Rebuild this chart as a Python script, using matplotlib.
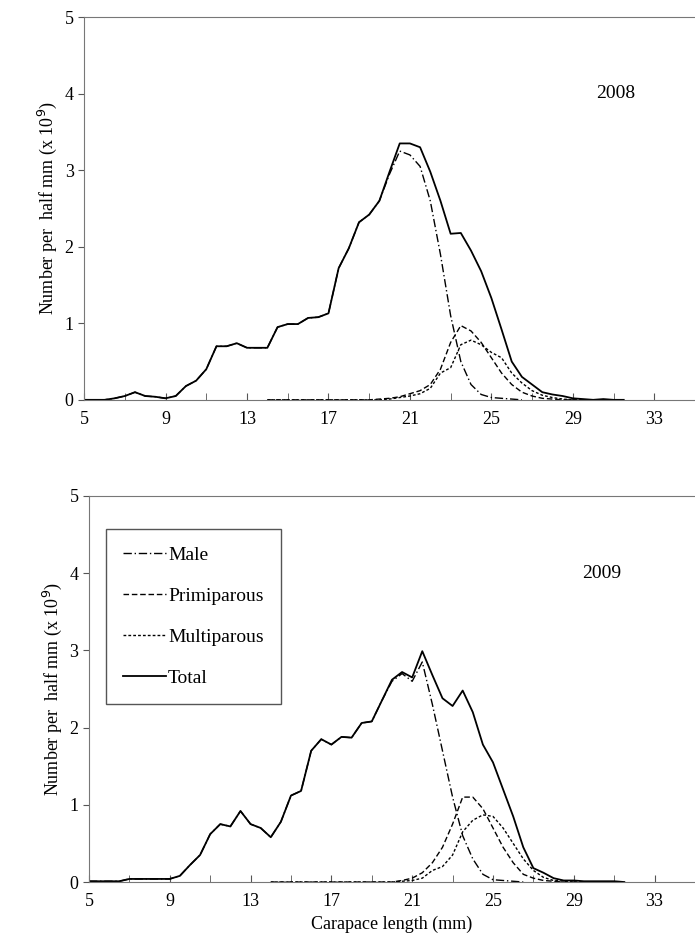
import numpy as np
import matplotlib
matplotlib.use("Agg")
import matplotlib.pyplot as plt

plt.rcParams['font.family'] = ['Liberation Serif', 'DejaVu Serif']

x = np.arange(5, 32, 0.5)
total08 = [0,0,0,0.02,0.05,0.1,0.05,0.04,0.02,0.05,0.18,0.25,0.4,0.7,0.7,0.74,0.68,0.68,0.68,0.95,
           0.99,0.99,1.07,1.08,1.13,1.72,1.98,2.32,2.42,2.6,2.98,3.35,3.35,3.3,2.98,2.6,2.17,2.18,1.95,1.68,
           1.33,0.92,0.5,0.3,0.2,0.1,0.07,0.05,0.02,0.01,0,0.01,0,0]
xm = np.arange(5, 27, 0.5)
male08 = [0,0,0,0.02,0.05,0.1,0.05,0.04,0.02,0.05,0.18,0.25,0.4,0.7,0.7,0.74,0.68,0.68,0.68,0.95,
          0.99,0.99,1.07,1.08,1.13,1.72,1.98,2.32,2.42,2.6,2.95,3.25,3.2,3.05,2.6,1.9,1.1,0.5,0.2,0.07,0.03,0.02,0.01,0]
xp = np.arange(14, 30, 0.5)
prim08 = [0,0,0,0,0,0,0,0,0,0,0,0.01,0.02,0.04,0.08,0.12,0.2,0.4,0.75,0.97,0.9,0.75,0.55,0.35,0.2,0.1,0.05,0.02,0.01,0,0,0]
multi08 = [0,0,0,0,0,0,0,0,0,0,0,0,0.01,0.03,0.05,0.08,0.15,0.35,0.42,0.72,0.78,0.72,0.62,0.55,0.35,0.22,0.12,0.06,0.03,0.01,0,0]

total09 = [0.01,0.01,0.01,0.01,0.04,0.04,0.04,0.04,0.04,0.08,0.22,0.35,0.62,0.75,0.72,0.92,0.75,0.7,0.58,0.78,
           1.12,1.18,1.7,1.85,1.78,1.88,1.87,2.06,2.08,2.35,2.62,2.72,2.65,2.99,2.68,2.38,2.28,2.48,2.2,1.78,
           1.55,1.2,0.85,0.45,0.18,0.12,0.05,0.02,0.02,0.01,0.01,0.01,0.01,0]
male09 = [0.01,0.01,0.01,0.01,0.04,0.04,0.04,0.04,0.04,0.08,0.22,0.35,0.62,0.75,0.72,0.92,0.75,0.7,0.58,0.78,
          1.12,1.18,1.7,1.85,1.78,1.88,1.87,2.06,2.08,2.35,2.6,2.7,2.6,2.85,2.3,1.7,1.1,0.6,0.3,0.1,0.03,0.02,0.01,0]
prim09 = [0,0,0,0,0,0,0,0,0,0,0,0,0,0.02,0.05,0.12,0.25,0.45,0.75,1.1,1.1,0.95,0.7,0.45,0.25,0.1,0.05,0.02,0.01,0,0,0]
multi09 = [0,0,0,0,0,0,0,0,0,0,0,0,0,0.01,0.02,0.05,0.15,0.2,0.35,0.65,0.8,0.87,0.85,0.7,0.5,0.3,0.15,0.06,0.02,0.01,0,0]

fig = plt.figure(figsize=(6.95, 9.52), dpi=100)
ax1 = fig.add_axes([0.121, 0.580, 0.879, 0.402])
ax2 = fig.add_axes([0.128, 0.0735, 0.872, 0.4055])

def style(ax):
    ax.set_xlim(5, 35)
    ax.set_ylim(0, 5)
    ax.set_xticks(np.arange(5, 34, 4))
    ax.set_xticks(np.arange(7, 34, 4), minor=True)
    ax.set_yticks(range(6))
    ax.tick_params(axis='x', which='both', direction='in', length=5, labelsize=13, pad=8, color='#555')
    ax.tick_params(axis='y', direction='out', length=4, labelsize=13, color='#555')
    for s in ['left', 'bottom', 'top']:
        ax.spines[s].set_color('#777')
    ax.spines['right'].set_visible(False)

for ax, t, m, p, mu, yr, yx in [(ax1, total08, male08, prim08, multi08, '2008', 31.1),
                                (ax2, total09, male09, prim09, multi09, '2009', 30.4)]:
    style(ax)
    ax.plot(xm, m, color='k', lw=1, ls=(0, (6, 2, 1, 2)), label='Male')
    ax.plot(xp, p, color='k', lw=1, ls=(0, (4, 2)), label='Primiparous')
    ax.plot(xp, mu, color='k', lw=1, ls=(0, (2, 1.5)), label='Multiparous')
    ax.plot(x, t, color='k', lw=1.3, label='Total')
    ax.text(yx, 4.0, yr, fontsize=14, ha='center', va='center')

ax1.set_ylabel('Number per  half mm (x 10$^9$)', fontsize=13)
ax2.set_ylabel('Number per  half mm (x 10$^9$)', fontsize=13)
ax2.set_xlabel('Carapace length (mm)', fontsize=13)
leg = ax2.legend(loc='upper left', bbox_to_anchor=(0.028, 0.915), handlelength=2.2, handletextpad=0.1,
                 labelspacing=1.2, fontsize=14, fancybox=False, borderpad=0.9, borderaxespad=0,
                 framealpha=1)
leg.get_frame().set_edgecolor('#555')
fig.savefig('out.png', dpi=100)
